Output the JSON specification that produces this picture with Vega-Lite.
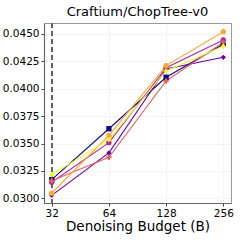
{
  "$schema": "https://vega.github.io/schema/vega-lite/v6.json",
  "autosize": {"type": "none"},
  "padding": {"left": 44, "top": 23, "right": 13, "bottom": 41},
  "width": 187,
  "height": 180,
  "background": "white",
  "title": {"text": "Craftium/ChopTree-v0", "fontSize": 13, "font": "DejaVu Sans", "fontWeight": "normal", "color": "#000", "offset": 4},
  "config": {
    "view": {"stroke": "#999", "strokeWidth": 1},
    "axis": {"labelFont": "DejaVu Sans", "titleFont": "DejaVu Sans", "labelColor": "#000", "titleColor": "#000", "domainColor": "#666", "domainWidth": 1.2, "tickColor": "#444", "gridColor": "#e6e6e6", "gridDash": [2, 2], "gridWidth": 0.8}
  },
  "data": {"values": [
    {"s": "a", "B": 32, "v": 0.0317}, {"s": "a", "B": 64, "v": 0.03635}, {"s": "a", "B": 128, "v": 0.04105}, {"s": "a", "B": 256, "v": 0.04406},
    {"s": "b", "B": 32, "v": 0.03027}, {"s": "b", "B": 64, "v": 0.03414}, {"s": "b", "B": 128, "v": 0.0418}, {"s": "b", "B": 256, "v": 0.04287},
    {"s": "c", "B": 32, "v": 0.03146}, {"s": "c", "B": 64, "v": 0.03508}, {"s": "c", "B": 128, "v": 0.04192}, {"s": "c", "B": 256, "v": 0.04445},
    {"s": "d", "B": 32, "v": 0.0316}, {"s": "d", "B": 64, "v": 0.03374}, {"s": "d", "B": 128, "v": 0.04071}, {"s": "d", "B": 256, "v": 0.04424},
    {"s": "e", "B": 32, "v": 0.03046}, {"s": "e", "B": 64, "v": 0.03575}, {"s": "e", "B": 128, "v": 0.04211}, {"s": "e", "B": 256, "v": 0.04521},
    {"s": "f", "B": 32, "v": 0.03215}, {"s": "f", "B": 64, "v": 0.03535}, {"s": "f", "B": 128, "v": 0.04162}, {"s": "f", "B": 256, "v": 0.04388}
  ]},
  "encoding": {
    "x": {"field": "B", "type": "quantitative", "scale": {"type": "log", "base": 2, "domain": [29.15, 281], "nice": false},
      "axis": {"values": [32, 64, 128, 256], "format": "d", "title": "Denoising Budget (B)", "labelFontSize": 10.5, "titleFontSize": 13.5, "titleFontWeight": "normal", "labelPadding": 2, "titlePadding": 1, "tickSize": 3}},
    "y": {"field": "v", "type": "quantitative", "scale": {"domain": [0.02957, 0.046], "nice": false, "zero": false},
      "axis": {"values": [0.03, 0.0325, 0.035, 0.0375, 0.04, 0.0425, 0.045], "format": ".4f", "title": null, "labelFontSize": 10.5, "labelPadding": 2, "tickSize": 3}},
    "color": {"field": "s", "type": "nominal", "legend": null, "scale": {"domain": ["a", "b", "c", "d", "e", "f"], "range": ["#0d0887", "#6a00a8", "#b12a90", "#e16462", "#fca636", "#f0f921"]}}
  },
  "layer": [
    {"mark": {"type": "rule", "color": "#666", "strokeDash": [5, 3], "strokeWidth": 1}, "encoding": {"x": {"datum": 32}, "y": null, "color": null}},
    {"mark": {"type": "line", "strokeWidth": 1.1}, "encoding": {"order": {"field": "B"}}},
    {"mark": {"type": "point", "filled": true, "size": 28, "opacity": 1},
      "encoding": {"shape": {"field": "s", "type": "nominal", "legend": null, "scale": {"domain": ["a", "b", "c", "d", "e", "f"], "range": ["square", "diamond", "circle", "cross", "circle", "diamond"]}}}}
  ]
}
